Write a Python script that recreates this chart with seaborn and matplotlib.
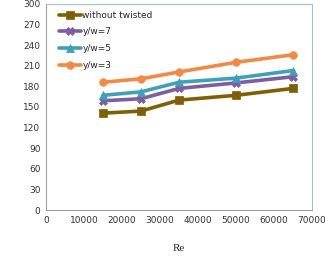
import pandas as pd
import numpy as np
import matplotlib
matplotlib.use('Agg')
import matplotlib.pyplot as plt
import seaborn as sns

# Values
re_values = [15000, 25000, 35000, 50000, 65000]
without_twisted = [141, 144, 160, 167, 177]
yw7 = [159, 162, 177, 185, 194]
yw5 = [167, 172, 186, 192, 203]
yw3 = [186, 191, 201, 215, 226]

series_names = ['without twisted', 'y/w=7', 'y/w=5', 'y/w=3']
colors = ['#7F6000', '#7B5FA0', '#3FA0B8', '#F08A45']
markers = ['s', 'X', '^', 'o']

df = pd.DataFrame({
    'Re': re_values * 4,
    'val': without_twisted + yw7 + yw5 + yw3,
    'series': np.repeat(series_names, len(re_values)),
})

sns.set_style('white')
plt.rcParams['font.family'] = ['DejaVu Sans']

fig = plt.figure(figsize=(3.25, 2.63), dpi=100)
ax = fig.add_axes([0.1415, 0.2015, 0.8185, 0.7835])

for name, c, m in zip(series_names, colors, markers):
    sub = df[df['series'] == name]
    sns.lineplot(data=sub, x='Re', y='val', ax=ax, color=c, marker=m,
                 markersize=5.5, linewidth=2.6, markeredgewidth=0.5,
                 markeredgecolor=c, label=name)

ax.set_xlim(0, 70000)
ax.set_ylim(0, 300)
ax.set_xticks(np.arange(0, 70001, 10000))
ax.set_yticks(np.arange(0, 301, 30))
ax.tick_params(axis='both', labelsize=6.5, length=2, colors='#333333',
               direction='out', pad=2)
ax.tick_params(axis='x', color='#999999')
ax.tick_params(axis='y', color='#999999')
ax.set_xlabel('Re', fontsize=8, family='Liberation Serif', labelpad=14)
ax.set_ylabel('')

for side in ['top', 'right']:
    ax.spines[side].set_color('#A8BCD0')
    ax.spines[side].set_linewidth(0.8)
for side in ['left', 'bottom']:
    ax.spines[side].set_color('#A0A0A0')
    ax.spines[side].set_linewidth(0.8)

leg = ax.legend(loc='upper left', bbox_to_anchor=(0.025, 1.0), frameon=False,
                fontsize=6.5, handlelength=2.4, handletextpad=0.15,
                labelspacing=0.85, borderaxespad=0.35)

fig.savefig('out.png', dpi=100)
